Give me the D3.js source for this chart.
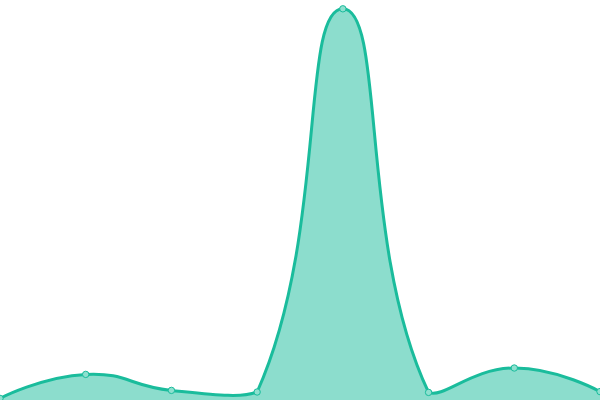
<!DOCTYPE html>
<html>
<head>
<meta charset="utf-8">
<script src="https://cdn.jsdelivr.net/npm/d3@7"></script>
<style>
  html, body { margin: 0; padding: 0; background: #fff; }
  svg { display: block; }
</style>
</head>
<body>
<div id="chart"></div>
<script>
// Data
const categories = [0, 1, 2, 3, 4, 5, 6, 7];
const values = [0.4, 6.4, 2.4, 2.0, 97.8, 1.9, 8.0, 2.1];

const width = 600;
const height = 400;

// Smooth bezier curve, control points clamped to the bounding box of the points
function SmoothClamped(context) { this._context = context; }
SmoothClamped.prototype = {
    areaStart: function() { this._line = 0; },
    areaEnd: function() { this._line = NaN; },
    lineStart: function() { this._x = []; this._y = []; },
    point: function(x, y) { this._x.push(+x); this._y.push(+y); },
    lineEnd: function() {
        const xs = this._x, ys = this._y, n = xs.length, ctx = this._context;
        const smooth = 0.5;
        if (n) {
            this._line ? ctx.lineTo(xs[0], ys[0]) : ctx.moveTo(xs[0], ys[0]);
            const minX = d3.min(xs), maxX = d3.max(xs), minY = d3.min(ys), maxY = d3.max(ys);
            const clampX = v => Math.max(minX, Math.min(maxX, v));
            const clampY = v => Math.max(minY, Math.min(maxY, v));
            // control points: [in, out] per point
            const cps = [];
            for (let i = 0; i < n; i++) {
                if (i === 0 || i === n - 1) { cps.push([xs[i], ys[i]]); continue; }
                const vx = (xs[i + 1] - xs[i - 1]) * smooth;
                const vy = (ys[i + 1] - ys[i - 1]) * smooth;
                let d0 = Math.hypot(xs[i] - xs[i - 1], ys[i] - ys[i - 1]);
                let d1 = Math.hypot(xs[i + 1] - xs[i], ys[i + 1] - ys[i]);
                const sum = d0 + d1;
                if (sum) { d0 /= sum; d1 /= sum; }
                cps.push([clampX(xs[i] - vx * d0), clampY(ys[i] - vy * d0)]);
                cps.push([clampX(xs[i] + vx * d1), clampY(ys[i] + vy * d1)]);
            }
            for (let i = 0; i < n - 1; i++) {
                const a = cps[i * 2], b = cps[i * 2 + 1];
                ctx.bezierCurveTo(a[0], a[1], b[0], b[1], xs[i + 1], ys[i + 1]);
            }
        }
        if (this._line || (this._line !== 0 && n === 1)) ctx.closePath();
        this._line = 1 - this._line;
        this._x = this._y = null;
    }
};
const smoothCurve = context => new SmoothClamped(context);

const svg = d3.select("#chart")
    .append("svg")
    .attr("width", width)
    .attr("height", height);

const x = d3.scaleLinear()
    .domain([0, categories.length - 1])
    .range([0, width]);

const y = d3.scaleLinear()
    .domain([0, 100])
    .range([height, 0]);

const data = categories.map((c, i) => ({ c, v: values[i] }));

// Filled area under the curve
const area = d3.area()
    .x(d => x(d.c))
    .y0(height)
    .y1(d => y(d.v))
    .curve(smoothCurve);

svg.append("path")
    .datum(data)
    .attr("d", area)
    .attr("fill", "#1abc9c")
    .attr("fill-opacity", 0.5);

// Line
const line = d3.line()
    .x(d => x(d.c))
    .y(d => y(d.v))
    .curve(smoothCurve);

svg.append("path")
    .datum(data)
    .attr("d", line)
    .attr("fill", "none")
    .attr("stroke", "#1abc9c")
    .attr("stroke-width", 3);

// Point markers
svg.selectAll(".dot")
    .data(data)
    .enter()
    .append("circle")
    .attr("class", "dot")
    .attr("cx", d => x(d.c))
    .attr("cy", d => y(d.v))
    .attr("r", 3.2)
    .attr("fill", "#8ee0cf")
    .attr("stroke", "#1abc9c")
    .attr("stroke-width", 1);
</script>
</body>
</html>
